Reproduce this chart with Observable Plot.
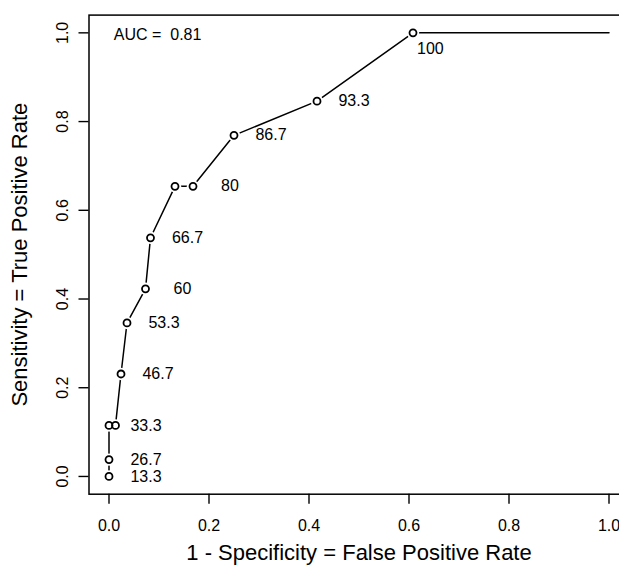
<!DOCTYPE html>
<html><head><meta charset="utf-8">
<script src="https://cdn.jsdelivr.net/npm/d3@7"></script>
<script src="https://cdn.jsdelivr.net/npm/@observablehq/plot@0.6"></script>
<style>html,body{margin:0;padding:0;overflow:hidden;background:#fff}</style>
</head><body><div id="chart"></div>
<script>
// ROC points (false positive rate, true positive rate) and cut-off labels
const fpr = [0, 0, 0, 0.013, 0.024, 0.036, 0.073, 0.083, 0.132, 0.168, 0.250, 0.416, 0.608];
const tpr = [0, 0.038, 0.115, 0.115, 0.231, 0.346, 0.423, 0.538, 0.654, 0.654, 0.769, 0.846, 1.0];
const cutoffs = ["13.3", "26.7", "33.3", null, "46.7", "53.3", "60", "66.7", null, "80", "86.7", "93.3", "100"];
const curveEndFpr = 1.0;
const curveEndTpr = 1.0;
const xTicks = [0, 0.2, 0.4, 0.6, 0.8, 1.0];
const yTicks = [0, 0.2, 0.4, 0.6, 0.8, 1.0];
const aucValue = "0.81";
const xTitle = "1 - Specificity = False Positive Rate";
const yTitle = "Sensitivity = True Positive Rate";

const points = fpr.map((x, i) => ({x, y: tpr[i], label: cutoffs[i]}));
const curve = [...points, {x: curveEndFpr, y: curveEndTpr}];
const lastLabel = cutoffs[cutoffs.length - 1];

const chart = Plot.plot({
  width: 640,
  height: 571,
  marginLeft: 88.5,
  marginRight: 11.5,
  marginTop: 14.6,
  marginBottom: 77.3,
  style: {fontFamily: "'Liberation Sans', Arial, Helvetica, sans-serif", fontSize: "16px", maxWidth: "none", background: "white", color: "black"},
  x: {domain: [-0.04, 1.04]},
  y: {domain: [-0.04, 1.04]},
  marks: [
    Plot.frame({stroke: "black", strokeWidth: 1.5}),
    Plot.axisX(xTicks, {tickSize: 10, tickPadding: 15, tickFormat: d3.format(".1f"), label: null, fontSize: 16, strokeWidth: 1.4}),
    Plot.axisY(yTicks, {tickSize: 10, tickPadding: 11, tickRotate: -90, tickFormat: d3.format(".1f"), label: null, fontSize: 16, strokeWidth: 1.4}),
    Plot.text([xTitle], {text: d => d, frameAnchor: "bottom", textAnchor: "middle", dy: 66, fontSize: 22}),
    Plot.text([yTitle], {text: d => d, frameAnchor: "left", textAnchor: "middle", dx: -68.8, rotate: -90, fontSize: 22}),
    Plot.line(curve, {x: "x", y: "y", stroke: "black", strokeWidth: 1.5}),
    Plot.dot(points, {x: "x", y: "y", r: 6.2, fill: "white", stroke: null}),
    Plot.dot(points, {x: "x", y: "y", r: 3.5, fill: "none", stroke: "black", strokeWidth: 1.8}),
    Plot.text(points.filter(d => d.label && d.label !== lastLabel), {x: "x", y: "y", text: "label", dx: 37, fontSize: 16}),
    Plot.text(points.filter(d => d.label === lastLabel), {x: "x", y: "y", text: "label", dx: 17.4, dy: 16, fontSize: 16}),
    Plot.text([`AUC = \u00a0${aucValue}`], {text: d => d, frameAnchor: "top-left", textAnchor: "start", lineAnchor: "top", dx: 24.8, dy: 13.5, fontSize: 16})
  ]
});
document.getElementById("chart").appendChild(chart);
</script>
</body></html>
